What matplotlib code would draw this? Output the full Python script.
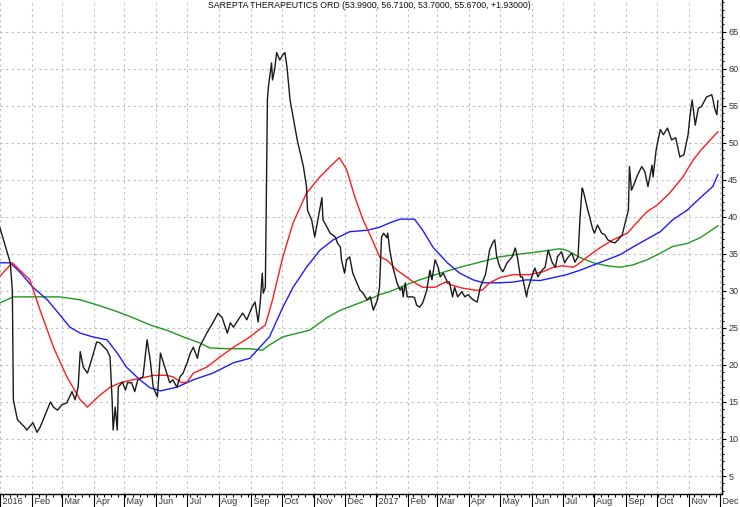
import numpy as np
import pandas as pd
import matplotlib
matplotlib.use('Agg')
import matplotlib.pyplot as plt
import matplotlib.dates as mdates
from matplotlib.ticker import MultipleLocator, FixedLocator

plt.rcParams['font.family'] = ['Liberation Sans', 'DejaVu Sans']

start = pd.Timestamp('2016-01-01')

title = "SAREPTA THERAPEUTICS ORD (53.9900, 56.7100, 53.7000, 55.6700, +1.93000)"

# price (days after 2016-01-01, close)
price_days = [0, 10, 12, 13, 15, 17, 24, 26, 32, 36, 39, 42, 49, 52, 56, 60, 65, 70, 73, 76,
              78, 81, 85, 89, 94, 97, 104, 107, 109, 110, 112, 114, 115, 119, 122, 124, 128, 131, 134, 139,
              143, 146, 149, 153, 156, 158, 162, 165, 168, 172, 175, 178, 182, 185, 188, 192, 194, 201, 207, 212,
              216, 221, 224, 227, 233, 236, 240, 245, 248, 251, 253, 255, 256, 258, 260, 261, 264, 265, 267, 269,
              272, 275, 277, 279, 282, 285, 289, 292, 295, 298, 299, 303, 306, 309, 313, 314, 318, 321, 326, 328,
              331, 332, 335, 337, 340, 343, 347, 350, 353, 357, 360, 363, 367, 369, 371, 373, 376, 377, 379, 382,
              386, 389, 391, 392, 394, 396, 401, 403, 405, 408, 411, 415, 418, 420, 423, 426, 428, 431, 435, 437,
              440, 442, 445, 449, 452, 455, 460, 464, 467, 472, 474, 476, 479, 481, 483, 486, 489, 493, 498, 501,
              503, 506, 508, 512, 513, 517, 520, 523, 527, 530, 533, 537, 540, 542, 546, 549, 552, 556, 559, 562,
              564, 566, 567, 571, 572, 576, 578, 581, 585, 588, 591, 595, 598, 601, 605, 608, 611, 612, 614, 617,
              620, 624, 627, 630, 634, 635, 638, 642, 645, 649, 653, 657, 661, 665, 669, 671, 673, 676, 679, 682,
              687, 692, 693, 695, 697, 698]
price = [38.5, 33.8, 30.1, 15.3, 13.9, 12.6, 11.6, 11.2, 12.2, 10.9, 11.6, 12.6, 15.0, 14.3, 13.9, 14.6, 14.9, 16.4, 15.3, 17.0,
         21.8, 19.7, 18.9, 20.7, 23.1, 23.0, 22.0, 21.1, 15.3, 11.2, 14.3, 11.2, 17.0, 17.7, 16.6, 17.6, 17.6, 16.4, 18.0, 18.4,
         23.4, 20.7, 17.0, 15.7, 21.6, 20.7, 18.9, 17.6, 18.0, 17.0, 18.4, 18.9, 20.3, 21.6, 22.4, 20.9, 22.4, 24.3, 25.7, 27.0,
         26.4, 24.3, 25.7, 25.1, 26.4, 27.0, 26.1, 27.8, 28.5, 25.8, 28.4, 32.4, 29.7, 30.5, 55.8, 57.6, 60.8, 58.5, 59.9, 62.2,
         61.2, 61.9, 62.2, 60.3, 55.8, 53.5, 50.4, 48.6, 46.8, 44.1, 40.9, 39.6, 37.3, 39.6, 42.6, 39.6, 38.6, 37.8, 37.3, 36.5,
         35.9, 34.2, 32.4, 34.2, 34.6, 32.4, 31.1, 30.1, 29.7, 28.8, 29.2, 27.4, 28.8, 30.5, 37.3, 37.8, 37.2, 37.8, 35.5, 33.2,
         31.1, 30.1, 30.5, 29.2, 31.1, 29.2, 29.2, 29.1, 28.1, 27.8, 28.4, 30.1, 32.8, 31.5, 34.2, 33.2, 31.9, 32.4, 31.2, 31.2,
         29.2, 30.5, 29.2, 29.9, 29.2, 29.5, 28.8, 28.5, 30.5, 32.2, 33.8, 35.5, 36.5, 36.9, 34.6, 33.2, 32.6, 33.8, 34.6, 35.8,
         34.6, 31.9, 31.9, 29.2, 30.1, 31.9, 33.1, 31.9, 32.8, 33.2, 35.5, 33.8, 33.2, 34.6, 35.3, 33.8, 34.5, 35.1, 33.9, 34.6,
         40.0, 43.9, 43.6, 41.2, 40.7, 38.5, 37.8, 38.9, 37.8, 37.6, 36.9, 36.6, 36.5, 36.9, 37.6, 39.3, 40.9, 46.8, 43.6, 44.6,
         45.7, 46.8, 46.1, 44.1, 47.0, 45.4, 49.1, 51.8, 51.1, 52.0, 50.4, 50.7, 48.1, 48.4, 51.1, 53.8, 55.8, 52.4, 54.7, 54.9,
         56.2, 56.5, 56.0, 54.6, 53.8, 55.67]

# red moving average
red_days = [0, 12, 29, 39, 52, 65, 78, 85, 97, 107, 117, 129, 143, 149, 162, 168, 177, 182, 188, 201,
            214, 227, 241, 258, 265, 275, 285, 298, 311, 321, 330, 337, 345, 353, 362, 369, 376, 386, 402, 411,
            423, 433, 439, 449, 462, 469, 476, 486, 499, 515, 528, 538, 547, 557, 561, 571, 583, 596, 610, 619,
            629, 639, 651, 664, 674, 682, 698]
red_ma = [32.0, 33.8, 31.5, 27.4, 22.4, 18.4, 15.3, 14.3, 15.9, 17.0, 17.6, 18.0, 18.4, 18.6, 18.6, 18.4, 17.6, 17.7, 18.9, 19.7,
          21.1, 22.4, 23.6, 25.4, 28.8, 34.6, 39.2, 43.2, 45.4, 46.8, 48.0, 46.4, 42.7, 39.6, 36.9, 34.6, 34.2, 32.8, 31.2, 30.5,
          30.5, 31.2, 30.8, 30.4, 30.1, 30.1, 31.1, 31.8, 32.2, 32.2, 32.6, 33.2, 33.4, 33.2, 33.5, 34.6, 35.8, 36.9, 37.8, 39.2,
          40.7, 41.6, 43.2, 45.4, 47.7, 49.1, 51.5]

# blue moving average
blue_days = [0, 10, 19, 32, 46, 58, 68, 78, 90, 104, 114, 123, 136, 146, 156, 172, 188, 207, 227, 243,
             250, 262, 275, 285, 298, 311, 324, 340, 357, 369, 379, 389, 403, 411, 421, 435, 447, 460, 470, 486,
             499, 512, 525, 538, 551, 564, 577, 590, 603, 615, 629, 642, 654, 668, 681, 693, 698]
blue_ma = [33.8, 33.8, 32.6, 30.5, 28.8, 26.8, 25.1, 24.3, 23.8, 23.4, 21.6, 19.7, 18.0, 16.9, 16.5, 17.0, 18.0, 18.9, 20.3, 20.9,
           22.0, 23.8, 27.8, 30.5, 33.2, 35.5, 36.9, 38.0, 38.2, 38.6, 39.2, 39.7, 39.7, 38.2, 35.9, 33.8, 32.4, 31.5, 31.1, 31.1,
           31.2, 31.5, 31.4, 31.8, 32.2, 32.8, 33.5, 34.2, 34.9, 35.9, 37.0, 38.0, 39.6, 40.9, 42.6, 44.1, 45.7]

# green moving average
green_days = [0, 13, 32, 58, 78, 97, 114, 129, 146, 162, 178, 194, 204, 221, 243, 255, 262, 275, 301, 318,
              331, 350, 363, 369, 379, 389, 408, 428, 447, 467, 486, 506, 525, 544, 551, 564, 577, 590, 603, 615,
              629, 642, 654, 668, 681, 698]
green_ma = [28.4, 29.2, 29.2, 29.2, 28.8, 28.0, 27.2, 26.4, 25.4, 24.7, 23.8, 23.0, 22.3, 22.2, 22.2, 22.0, 22.7, 23.8, 24.7, 26.4,
            27.4, 28.4, 29.1, 29.5, 29.9, 30.5, 31.5, 32.4, 33.2, 33.9, 34.6, 35.0, 35.3, 35.7, 35.5, 34.5, 33.8, 33.4, 33.2, 33.5,
            34.2, 35.1, 36.0, 36.4, 37.2, 38.8]


def to_dates(days):
    return start + pd.to_timedelta(days, unit='D')


fig = plt.figure(figsize=(7.40, 5.07), dpi=100)
ax = fig.add_axes([0.0, 13 / 507, 722 / 740, 494 / 507])

ax.plot(to_dates(green_days), green_ma, color='#1e9a1e', lw=1.0)
ax.plot(to_dates(blue_days), blue_ma, color='#1c1cff', lw=1.0)
ax.plot(to_dates(red_days), red_ma, color='#ff1c1c', lw=1.0)
ax.plot(to_dates(price_days), price, color='#1a1a1a', lw=1.0)

ax.set_xlim(start, pd.Timestamp('2017-12-03'))
ax.set_ylim(2.57, 69.3)

# x axis: month ticks, weekly minor ticks
months = pd.date_range('2016-01-01', '2017-12-01', freq='MS')
ax.xaxis.set_major_locator(FixedLocator(mdates.date2num(months)))
ax.xaxis.set_minor_locator(mdates.WeekdayLocator(byweekday=mdates.MO))
ax.set_xticklabels([' ' + (m.strftime('%Y') if m.month == 1 else m.strftime('%b')) for m in months])
ax.tick_params(axis='x', which='major', direction='out', length=9.5, width=0.8,
               pad=-7.5, labelsize=6.5, labelcolor='#333333')
ax.tick_params(axis='x', which='minor', direction='out', length=2, width=0.8)
plt.setp(ax.get_xticklabels(), ha='left')

# y axis on the right
ax.yaxis.tick_right()
ax.yaxis.set_major_locator(MultipleLocator(5))
ax.yaxis.set_minor_locator(MultipleLocator(1))
ax.tick_params(axis='y', which='major', direction='out', length=3, width=0.8,
               pad=1.5, labelsize=6.5, labelcolor='#333333')
ax.tick_params(axis='y', which='minor', direction='out', length=1.5, width=0.8)

ax.grid(which='major', color='#bdbdbd', linestyle=(0, (2, 3)), linewidth=0.8)
ax.set_axisbelow(True)

ax.spines['top'].set_visible(False)
ax.spines['left'].set_visible(False)
ax.spines['right'].set_linewidth(1.0)
ax.spines['bottom'].set_linewidth(1.0)

ax.text(0.512, 0.988, title, transform=ax.transAxes, ha='center', va='center',
        fontsize=6.3, color='#111111')

fig.savefig('out.png', dpi=100)
